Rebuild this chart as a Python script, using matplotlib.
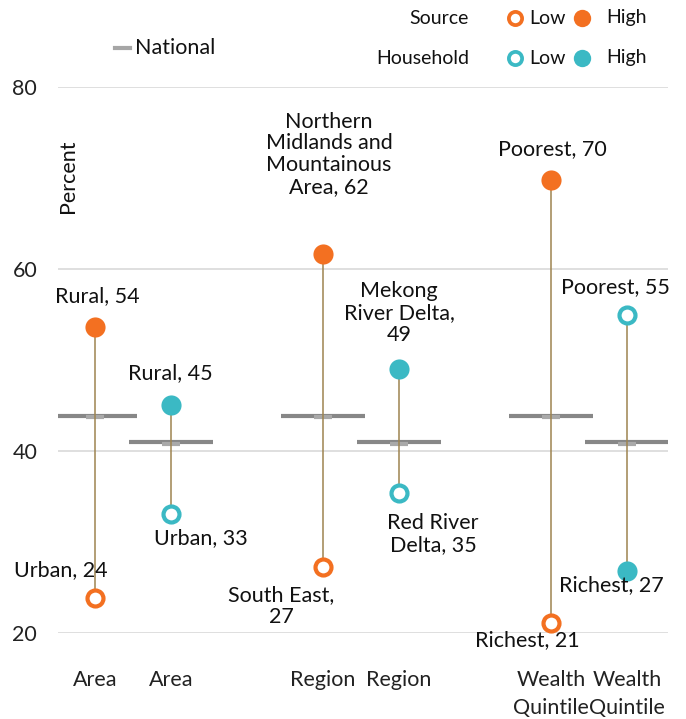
import numpy as np
import matplotlib
matplotlib.use("Agg")
import matplotlib.pyplot as plt
from matplotlib.lines import Line2D

plt.rcParams["font.family"] = ["Lato", "DejaVu Sans"]

# --- data ---
categories = ["Area", "Area", "Region", "Region", "Wealth\nQuintile", "Wealth\nQuintile"]
national = [43.9, 41.0]  # source, household

source_open = [23.8, 27.3, 21.1]
source_open_names = ["Urban", "South East,\n", "Richest"]
source_filled = [53.6, 61.6, 69.8]
source_filled_names = ["Rural", "Northern\nMidlands and\nMountainous\nArea", "Poorest"]

household_open = [33.1, 35.4, 54.9]
household_open_names = ["Urban", "Red River\nDelta", "Poorest"]
household_filled = [45.05, 49.0, 26.8]
household_filled_names = ["Rural", "Mekong\nRiver Delta,\n", "Richest"]

ORANGE = "#F37021"
TEAL = "#3BB9C4"
LINK = "#9E8450"
FS = 15.5

fig = plt.figure(figsize=(6.86, 7.19), dpi=100)
ax = fig.add_axes([58 / 686, 86 / 719, 610 / 686, 546 / 719])

xpos = np.array([g * 3 + s for g in range(3) for s in (0, 1)], dtype=float)
xs_src, xs_hh = xpos[0::2], xpos[1::2]

ax.set_ylim(20, 80)
ax.set_xlim(-0.49, 7.54)
ax.set_yticks([20, 40, 60, 80])
ax.grid(axis="y", color="#d9d9d9", lw=1.2)
ax.set_axisbelow(True)
for s in ax.spines.values():
    s.set_visible(False)
ax.tick_params(length=0, labelsize=FS, colors="#222222")
ax.tick_params(axis="y", pad=15)
ax.tick_params(axis="x", pad=27)
ax.set_xticks(xpos)
ax.set_xticklabels(categories, va="top", linespacing=1.45)

# national lines
for xs, nat in ((xs_src, national[0]), (xs_hh, national[1])):
    ax.hlines([nat] * len(xs), xs - 0.55, xs + 0.55, color="#878787", lw=3, zorder=2)
    ax.plot(xs, [nat - 0.2] * len(xs), ls="none", marker="_", ms=13, mew=3,
            color="#a9a9a9", zorder=2.5)

# connectors and points
def series(xs, opn, fil, color):
    for x, a, b in zip(xs, opn, fil):
        ax.plot([x, x], [a, b], color=LINK, lw=1.1, zorder=3)
    ax.plot(xs, opn, ls="none", marker="o", ms=11.5, mfc="white", mec=color,
            mew=3, zorder=4)
    ax.plot(xs, fil, ls="none", marker="o", ms=14.5, mfc=color, mec="none",
            zorder=4)

series(xs_src, source_open, source_filled, ORANGE)
series(xs_hh, household_open, household_filled, TEAL)

# point labels, offsets in pixels from the point
def lab(x, y, name, dx, dy):
    sep = "" if name.endswith("\n") else ", "
    ax.annotate(f"{name}{sep}{round(y)}", (x, y), xytext=(dx, dy),
                textcoords="offset pixels", ha="center", va="center",
                fontsize=FS, color="#111111", linespacing=1.12, zorder=6)

src_open_off = [(-34, 28), (-42, -39), (-24, -17)]
src_fil_off = [(2, 31), (6, 100), (1, 31)]
hh_open_off = [(30, -24), (34, -41), (-12, 28)]
hh_fil_off = [(-1, 32), (0, 56), (-16, -14)]

for i in range(3):
    lab(xs_src[i], source_open[i], source_open_names[i], *src_open_off[i])
    lab(xs_src[i], source_filled[i], source_filled_names[i], *src_fil_off[i])
    lab(xs_hh[i], household_open[i], household_open_names[i], *hh_open_off[i])
    lab(xs_hh[i], household_filled[i], household_filled_names[i], *hh_fil_off[i])

ax.text(0.016, 0.837, "Percent", transform=ax.transAxes, rotation=90,
        ha="center", va="center", fontsize=FS, color="#111111")

# legend, drawn by hand in figure pixels
def fx(px):
    return px / 686

def fy(py):
    return 1 - py / 719

fig.add_artist(Line2D([fx(115), fx(130)], [fy(48), fy(48)], color="#a6a6a6", lw=3))
fig.text(fx(135), fy(48), "National", fontsize=FS, va="center", color="#111111")

for row_y, name, color in ((18, "Source", ORANGE), (58, "Household", TEAL)):
    fig.text(fx(469), fy(row_y), name, fontsize=14, ha="right", va="center",
             color="#111111")
    fig.add_artist(Line2D([fx(515)], [fy(row_y)], marker="o", ms=9.5, mfc="white",
                          mec=color, mew=2.7))
    fig.text(fx(529), fy(row_y), "Low", fontsize=14, va="center", color="#111111")
    fig.add_artist(Line2D([fx(582)], [fy(row_y)], marker="o", ms=12.5, mfc=color,
                          mec="none"))
    fig.text(fx(606), fy(row_y), "High", fontsize=14, va="center", color="#111111")

fig.savefig("out.png", dpi=100)
